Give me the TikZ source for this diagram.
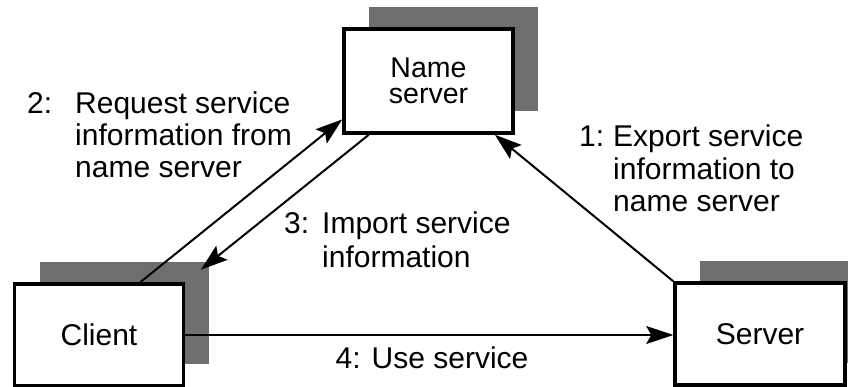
\documentclass[tikz,border=0pt]{standalone}
\usepackage{fontspec}
\setmainfont{Liberation Sans}
\usetikzlibrary{arrows.meta,shadows}

\begin{document}
\begin{tikzpicture}[x=1pt,y=-1pt,
  box/.style={draw, line width=3.5pt, fill=white, inner sep=0pt,
    minimum width=169pt, minimum height=102pt, align=center,
    font=\fontsize{30}{32}\selectfont,
    general shadow={draw=none, fill=black!57, shadow xshift=25pt, shadow yshift=22pt}},
  link/.style={line width=2pt, -{Stealth[length=27pt,width=18pt,inset=5pt]}},
  lbl/.style={inner sep=0pt, anchor=base west}]
\useasboundingbox (0,0) rectangle (848,387);

% components
\node[box, minimum height=104pt, font=\fontsize{28.5}{26}\selectfont] (ns) at (428.5,81) {Name\\server};
\node[box] (client) at (99,335) {Client};
\node[box, minimum width=170pt] (server) at (760,334) {Server};

% message flows
\draw[link] (server.north west) -- (ns.-39);
\draw[link] (client.52) -- (ns.204);
\draw[link, shorten >=20pt] (ns.-138) -- (client.north east);
\draw[link] (client.east) -- (client.east -| server.west);

% step labels
\node[lbl, font=\fontsize{30}{32.5}\selectfont] (l1) at (579,147)
  {\begin{tabular}[t]{@{}p{34pt}@{}l@{}}1: & Export service\\ & information to\\ & name server\end{tabular}};
\node[lbl, font=\fontsize{30}{32}\selectfont] (l2) at (27,114)
  {\begin{tabular}[t]{@{}p{48pt}@{}l@{}}2: & Request service\\ & information from\\ & name server\end{tabular}};
\node[lbl, font=\fontsize{30}{33}\selectfont] (l3) at (284,234)
  {\begin{tabular}[t]{@{}p{38pt}@{}l@{}}3: & Import service\\ & information\end{tabular}};
\node[inner sep=0pt, anchor=base, font=\fontsize{30}{32}\selectfont] (l4) at (432,368) {4: Use service};
\end{tikzpicture}
\end{document}
